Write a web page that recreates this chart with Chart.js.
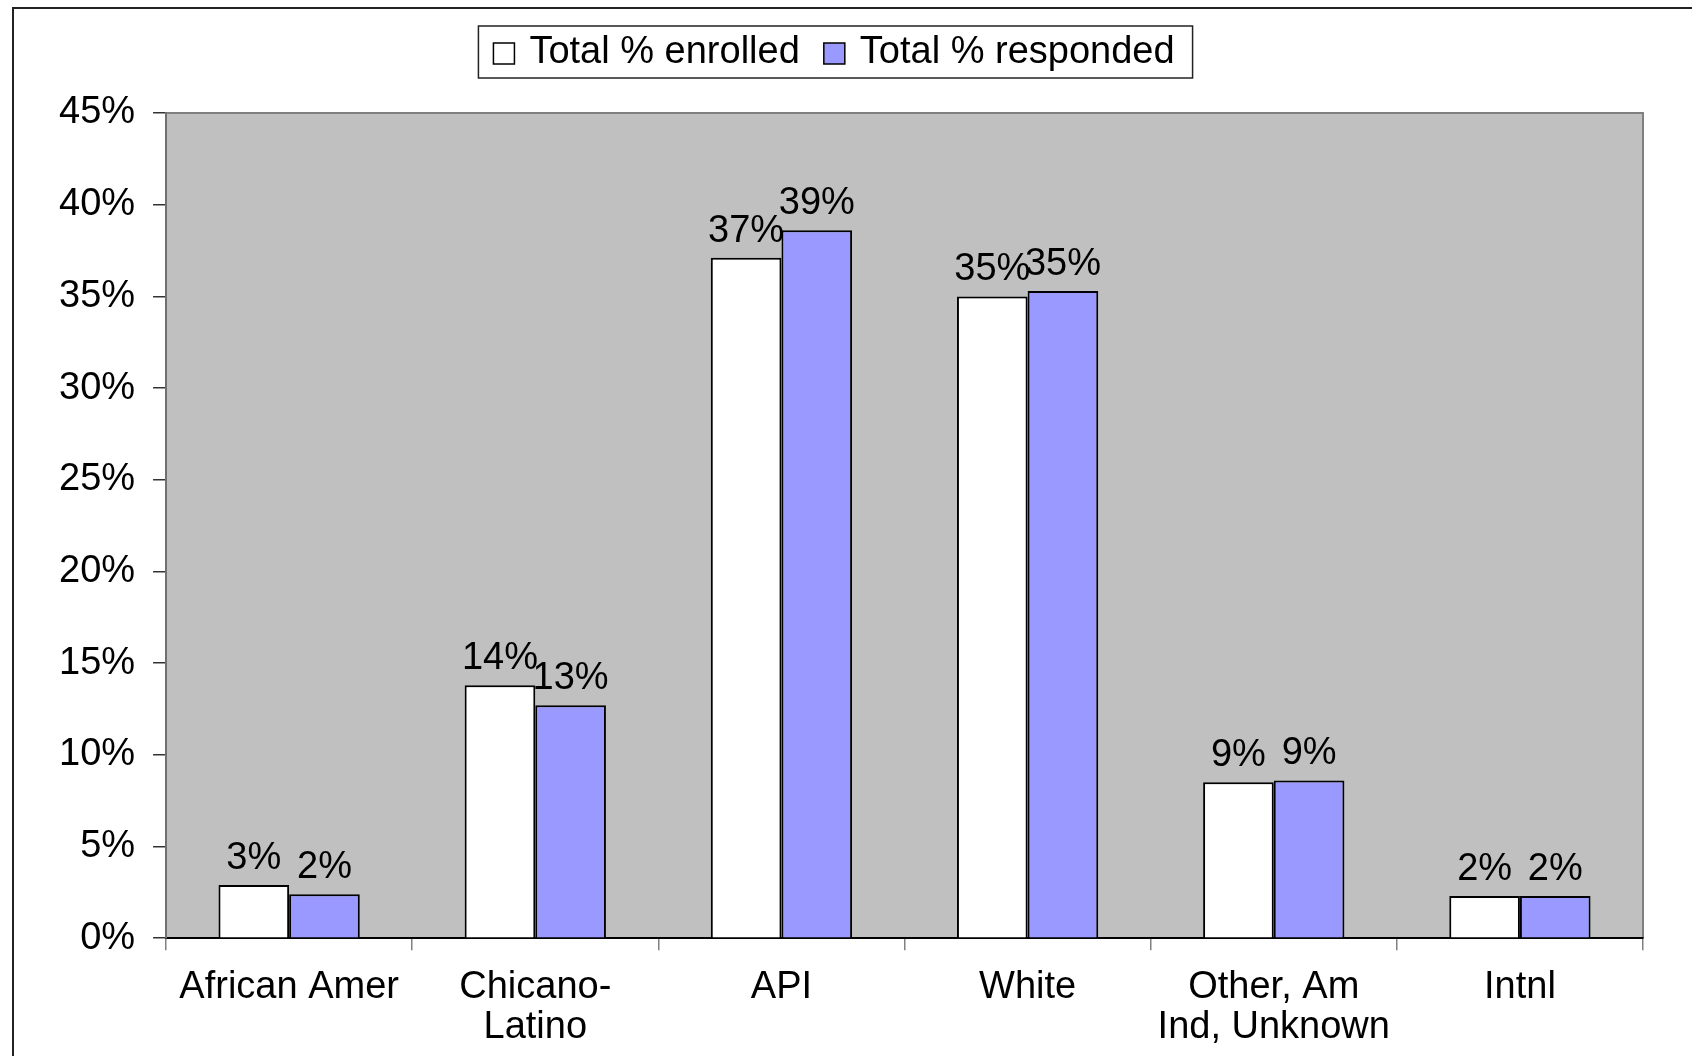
<!DOCTYPE html>
<html>
<head>
<meta charset="utf-8">
<script src="https://cdn.jsdelivr.net/npm/chart.js@4.4.0/dist/chart.umd.min.js"></script>
<style>
    html, body { margin: 0; padding: 0; background: #fff; }
    #wrap { width: 1692px; height: 1056px; position: relative; }
</style>
</head>
<body>
<div id="wrap"><canvas id="chart"></canvas></div>
<script>
const categories = ["African Amer", ["Chicano-", "Latino"], "API", "White", ["Other, Am", "Ind, Unknown"], "Intnl"];
const enrolled = [2.9, 13.8, 37.1, 35.0, 8.5, 2.3];
const responded = [2.4, 12.7, 38.6, 35.3, 8.6, 2.3];
const yTicks = [0, 5, 10, 15, 20, 25, 30, 35, 40, 45];

const FONT = "'Liberation Sans', Arial, sans-serif";
const FONT_SIZE = 38;

// grey plot area + outer frame
const backdrop = {
    id: "backdrop",
    beforeDraw(chart) {
        let ctx = chart.ctx;
        let a = chart.chartArea;
        ctx.save();
        ctx.strokeStyle = "#222";
        ctx.lineWidth = 2;
        ctx.strokeRect(13, 8, 1700, 1100);
        ctx.fillStyle = "#c0c0c0";
        ctx.fillRect(a.left, a.top, a.right - a.left, a.bottom - a.top);
        ctx.strokeStyle = "#808080";
        ctx.beginPath();
        ctx.moveTo(a.left, a.top);
        ctx.lineTo(a.right, a.top);
        ctx.lineTo(a.right, a.bottom);
        ctx.stroke();
        ctx.restore();
    }
};

// legend in a box, one row, centred over the chart
const boxLegend = {
    id: "boxLegend",
    afterDraw(chart) {
        let ctx = chart.ctx;
        let sets = chart.data.datasets;
        ctx.save();
        ctx.font = FONT_SIZE + "px " + FONT;
        ctx.textBaseline = "middle";
        ctx.textAlign = "left";
        let widths = sets.map(ds => ctx.measureText(ds.label).width);
        let total = 0;
        widths.forEach((w, i) => { total += 36 + w + (i > 0 ? 24 : 0); });
        let cy = 53;
        let x = 834 - total / 2;
        ctx.strokeStyle = "#222";
        ctx.lineWidth = 1.5;
        ctx.strokeRect(x - 15, 26, total + 33, 52);
        sets.forEach((ds, i) => {
            ctx.fillStyle = ds.backgroundColor;
            ctx.fillRect(x, cy - 10, 21, 21);
            ctx.strokeStyle = "#000";
            ctx.lineWidth = 1.5;
            ctx.strokeRect(x, cy - 10, 21, 21);
            ctx.fillStyle = "#000";
            ctx.fillText(ds.label, x + 36, cy);
            x += 36 + widths[i] + 24;
        });
        ctx.restore();
    }
};

// value labels over the bars
const barLabels = {
    id: "barLabels",
    afterDatasetsDraw(chart) {
        let ctx = chart.ctx;
        ctx.save();
        ctx.font = FONT_SIZE + "px " + FONT;
        ctx.fillStyle = "#000";
        ctx.textAlign = "center";
        ctx.textBaseline = "alphabetic";
        chart.data.datasets.forEach((ds, i) => {
            chart.getDatasetMeta(i).data.forEach((bar, j) => {
                ctx.fillText(Math.round(ds.data[j]) + "%", bar.x, bar.y - 16);
            });
        });
        ctx.restore();
    }
};

new Chart(document.getElementById("chart"), {
    type: "bar",
    data: {
        labels: categories,
        datasets: [
            { label: "Total % enrolled", data: enrolled, backgroundColor: "#ffffff", borderColor: "#000", borderWidth: 2 },
            { label: "Total % responded", data: responded, backgroundColor: "#9999ff", borderColor: "#000", borderWidth: 2 }
        ]
    },
    options: {
        responsive: true,
        maintainAspectRatio: false,
        animation: false,
        devicePixelRatio: 1,
        categoryPercentage: 0.574,
        barPercentage: 1,
        layout: { padding: { left: 41, right: 49, top: 113, bottom: -8 } },
        plugins: {
            tooltip: { enabled: false },
            legend: { display: false }
        },
        scales: {
            x: {
                grid: { display: true, drawOnChartArea: false, tickLength: 12, color: "#808080", lineWidth: 1.5 },
                border: { color: "#000", width: 2 },
                ticks: { color: "#000", font: { family: FONT, size: FONT_SIZE, lineHeight: 1.05 }, padding: 17, maxRotation: 0 }
            },
            y: {
                min: 0,
                max: 45,
                afterBuildTicks(axis) { axis.ticks = yTicks.map(v => ({ value: v })); },
                grid: { display: true, drawOnChartArea: false, tickLength: 13, color: "#333", lineWidth: 1.5 },
                border: { color: "#707070", width: 2 },
                ticks: { color: "#000", font: { family: FONT, size: FONT_SIZE }, padding: 18, callback: v => v + "%" }
            }
        }
    },
    plugins: [backdrop, barLabels, boxLegend]
});
</script>
</body>
</html>
